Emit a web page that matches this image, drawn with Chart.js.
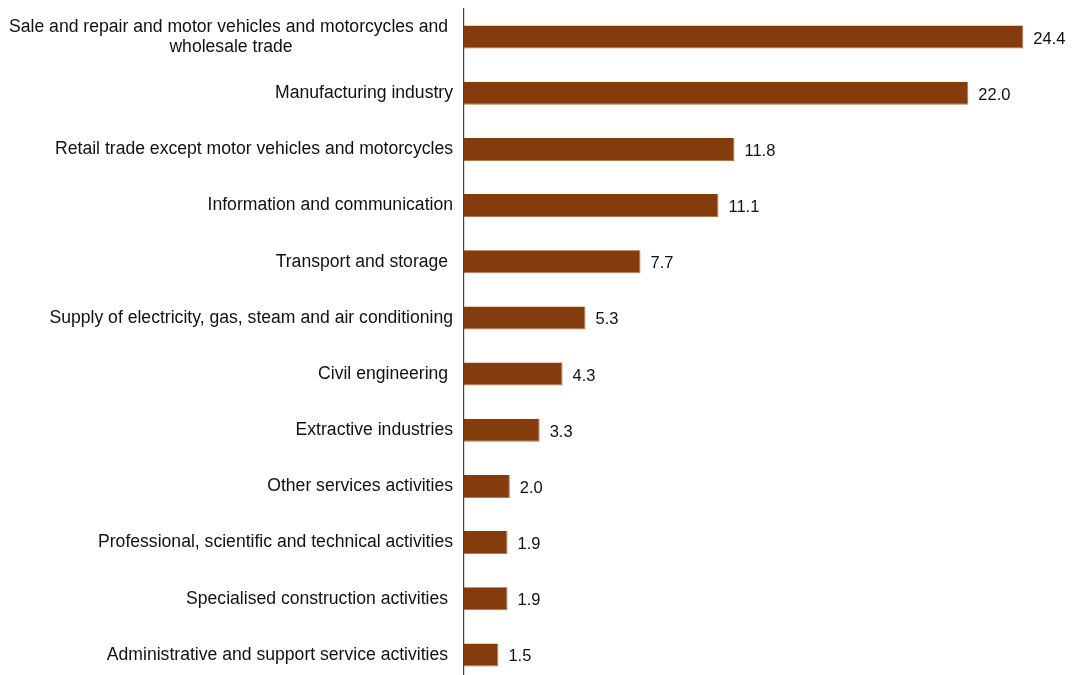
<!DOCTYPE html>
<html>
<head>
<meta charset="utf-8">
<script src="https://cdn.jsdelivr.net/npm/chart.js@4.4.1/dist/chart.umd.min.js"></script>
<style>
  html, body { margin: 0; padding: 0; background: #ffffff; overflow: hidden; }
  #wrap { width: 1075px; height: 684px; }
</style>
</head>
<body>
<div id="wrap"><canvas id="chart" width="1075" height="684"></canvas></div>
<script>
const categories = [
  ['Sale and repair and motor vehicles and motorcycles and ', 'wholesale trade'],
  'Manufacturing industry',
  'Retail trade except motor vehicles and motorcycles',
  'Information and communication',
  'Transport and storage ',
  'Supply of electricity, gas, steam and air conditioning',
  'Civil engineering ',
  'Extractive industries',
  'Other services activities',
  'Professional, scientific and technical activities',
  'Specialised construction activities ',
  'Administrative and support service activities '
];
const shares = [24.4, 22.0, 11.8, 11.1, 7.7, 5.3, 4.3, 3.3, 2.0, 1.9, 1.9, 1.5];

const BAR_COLOR = '#843C0C';
const TEXT_COLOR = '#111111';
const FONT = '"Liberation Sans", Arial, sans-serif';

// category labels: right aligned, multi-line ones centred on their widest line
const categoryLabels = {
  id: 'categoryLabels',
  afterDraw(chart) {
    const { ctx } = chart;
    const yScale = chart.scales.y;
    const right = yScale.right - 11;
    ctx.save();
    ctx.font = `17.6px ${FONT}`;
    ctx.fillStyle = TEXT_COLOR;
    ctx.textBaseline = 'middle';
    categories.forEach((label, i) => {
      const y = yScale.getPixelForTick(i);
      if (Array.isArray(label)) {
        const widths = label.map((line) => ctx.measureText(line).width);
        const maxW = Math.max(...widths);
        const cx = right - maxW / 2;
        const lineH = 20;
        ctx.textAlign = 'center';
        label.forEach((line, j) => {
          ctx.fillText(line, cx, y + (j - (label.length - 1) / 2) * lineH);
        });
      } else {
        ctx.textAlign = 'right';
        ctx.fillText(label, right, y);
      }
    });
    ctx.restore();
  }
};

// value labels at bar ends
const valueLabels = {
  id: 'valueLabels',
  afterDatasetsDraw(chart) {
    const { ctx } = chart;
    const meta = chart.getDatasetMeta(0);
    ctx.save();
    ctx.font = `16.5px ${FONT}`;
    ctx.fillStyle = TEXT_COLOR;
    ctx.textAlign = 'left';
    ctx.textBaseline = 'middle';
    meta.data.forEach((bar, i) => {
      ctx.fillText(shares[i].toFixed(1), bar.x + 10, bar.y + 2);
    });
    ctx.restore();
  }
};

new Chart(document.getElementById('chart'), {
  type: 'bar',
  plugins: [categoryLabels, valueLabels],
  data: {
    labels: categories,
    datasets: [{
      data: shares,
      backgroundColor: BAR_COLOR,
      borderColor: '#b8744a',
      borderWidth: { right: 1, bottom: 1 },
      borderSkipped: false,
      barPercentage: 0.41,
      categoryPercentage: 1
    }]
  },
  options: {
    indexAxis: 'y',
    responsive: false,
    animation: false,
    devicePixelRatio: 1,
    layout: { padding: { top: 9, right: 15, bottom: 1, left: 0 } },
    plugins: {
      legend: { display: false },
      tooltip: { enabled: false }
    },
    scales: {
      x: {
        display: false,
        min: 0,
        max: 26
      },
      y: {
        afterFit(scale) { scale.width = 464; },
        ticks: { display: false },
        grid: { display: false, drawTicks: false },
        border: { display: true, color: '#404040', width: 1.2 }
      }
    }
  }
});
</script>
</body>
</html>
